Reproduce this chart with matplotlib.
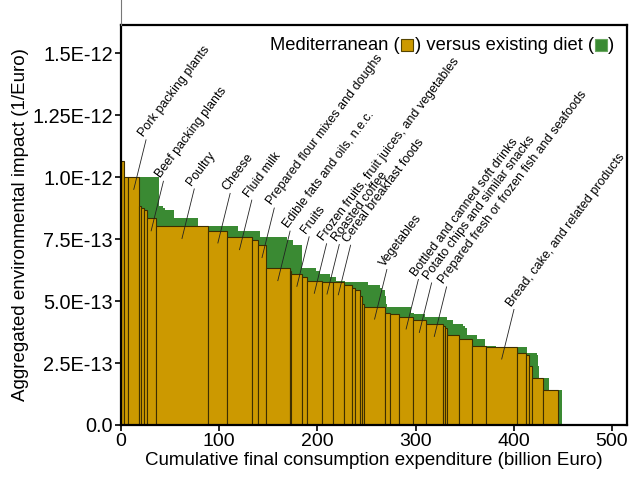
import matplotlib
matplotlib.use("Agg")
import matplotlib.pyplot as plt
import numpy as np
from matplotlib.offsetbox import HPacker, TextArea, DrawingArea, AnchoredOffsetbox
from matplotlib.patches import Rectangle
from matplotlib.lines import Line2D

plt.rcParams['font.family'] = ['Liberation Sans', 'DejaVu Sans']

# Mediterranean diet: expenditure (billion Euro) and impact intensity (1/Euro)
med_width = [3.0, 4.4, 11.2, 1.7, 3.4, 2.4, 9.2, 53.6, 19.5, 24.6, 6.7, 7.8, 24.4, 1.7,
             11.0, 4.9, 14.7, 11.2, 11.8, 8.1, 2.8, 5.8, 2.0, 1.3, 22.1, 5.1, 8.8, 14.3,
             12.6, 17.9, 2.0, 2.0, 12.4, 13.0, 14.7, 31.2, 9.6, 2.3, 3.8, 10.8, 15.5]
impact = [10.65, 10.0, 10.0, 8.85, 8.75, 8.67, 8.33, 8.02, 7.84, 7.57, 7.46, 7.25, 6.32, 6.2,
          6.09, 5.96, 5.81, 5.78, 5.75, 5.645, 5.51, 5.44, 5.21, 4.87, 4.77, 4.5, 4.49, 4.37,
          4.23, 4.07, 3.99, 3.9, 3.64, 3.45, 3.2, 3.16, 2.9, 2.82, 2.36, 1.88, 1.41]
impact = [v * 1e-13 for v in impact]
# Existing diet: expenditure (billion Euro), same sectors
exist_width = [2.6, 6.6, 29.8, 4.1, 1.7, 9.2, 24.8, 40.7, 22.1, 27.2, 6.7, 8.6, 14.6, 4.1,
               10.2, 6.1, 9.2, 10.2, 13.5, 11.9, 2.0, 3.1, 1.0, 1.0, 24.1, 3.4, 11.2, 22.4,
               6.4, 10.2, 1.7, 2.3, 9.6, 8.5, 11.2, 31.3, 10.2, 1.0, 1.6, 10.2, 12.6]
sector_labels = ["", "", "Pork packing plants", "", "", "", "Beef packing plants", "Poultry",
                 "Cheese", "Fluid milk", "", "Prepared flour mixes and doughs",
                 "Edible fats and oils, n.e.c.", "", "Fruits", "",
                 "Frozen fruits, fruit juices, and vegetables", "Roasted coffee",
                 "Cereal breakfast foods", "", "", "", "", "", "Vegetables", "", "",
                 "Bottled and canned soft drinks", "Potato chips and similar snacks",
                 "Prepared fresh or frozen fish and seafoods", "", "", "", "", "",
                 "Bread, cake, and related products", "", "", "", "", ""]
yticks = [0, 2.5e-13, 5.0e-13, 7.5e-13, 1.0e-12, 1.25e-12, 1.5e-12]
yticklabels = ["0.0", "2.5E-13", "5.0E-13", "7.5E-13", "1.0E-12", "1.25E-12", "1.5E-12"]
xticks = [0, 100, 200, 300, 400, 500]

GOLD = '#CC9900'
GREEN = '#3A8A33'
EDGE = '#3d2e00'

fig = plt.figure(figsize=(6.43, 4.86), dpi=100)
ax = fig.add_axes([121/643, 1-425/486, (627-121)/643, 400/486])

med_w = np.array(med_width)
ex_w = np.array(exist_width)
h = np.array(impact)
med_left = np.concatenate([[0], np.cumsum(med_w)[:-1]])
ex_left = np.concatenate([[0], np.cumsum(ex_w)[:-1]])

ax.bar(ex_left, h, width=ex_w, align='edge', color=GREEN, edgecolor='none', linewidth=0, zorder=1)
ax.bar(med_left, h, width=med_w, align='edge', color=GOLD, edgecolor=EDGE, linewidth=0.8, zorder=2)

# labels with leader lines
dx_line, dy_line = 12.5, 2.0e-13
for lab, l, w, hh in zip(sector_labels, med_left, med_w, h):
    if not lab:
        continue
    x0 = l + w / 2
    y0 = hh - 0.5e-13
    x1, y1 = x0 + dx_line, y0 + dy_line
    ax.plot([x0, x1], [y0, y1], color='#222222', lw=0.6, zorder=3)
    ax.text(x1 - 0.3, y1 + 0.03e-13, lab, rotation=53, rotation_mode='anchor',
            ha='left', va='bottom', fontsize=9, zorder=4)

ax.set_xlim(0, 515.3)
ax.set_ylim(0, 16.13e-13)
ax.set_xticks(xticks)
ax.set_xticklabels([str(t) for t in xticks], fontsize=14)
ax.set_yticks(yticks)
ax.set_yticklabels(yticklabels, fontsize=14.3)
ax.tick_params(direction='out', length=4, width=1.2, pad=2)
for s in ax.spines.values():
    s.set_linewidth(1.6)
ax.set_xlabel("Cumulative final consumption expenditure (billion Euro)", fontsize=13.5, labelpad=1)
ax.set_ylabel("Aggregated environmental impact (1/Euro)", fontsize=13.5, labelpad=2)

# legend-like title
fs = 13.2
t1 = TextArea("Mediterranean (", textprops=dict(fontsize=fs))
d1 = DrawingArea(9.6, 9, 0, 0)
d1.add_artist(Rectangle((0.6, -0.6), 8.4, 9.2, facecolor=GOLD, edgecolor='#554400', lw=0.8))
t2 = TextArea(") versus existing diet (", textprops=dict(fontsize=fs))
d2 = DrawingArea(9.6, 9, 0, 0)
d2.add_artist(Rectangle((0.6, -0.6), 8.4, 9.2, facecolor=GREEN, edgecolor='#6aa860', lw=0.8))
t3 = TextArea(")", textprops=dict(fontsize=fs))
hp = HPacker(children=[t1, d1, t2, d2, t3], align='baseline', pad=0, sep=0.5)
ab = AnchoredOffsetbox(loc='upper right', child=hp, pad=0.2, borderpad=0.7, frameon=False)
ax.add_artist(ab)

# stray line above axes
fig.add_artist(Line2D([121/643, 121/643], [1 - 25/486, 1.0], color='#777777', lw=0.8))

fig.savefig("out.png", dpi=100)
